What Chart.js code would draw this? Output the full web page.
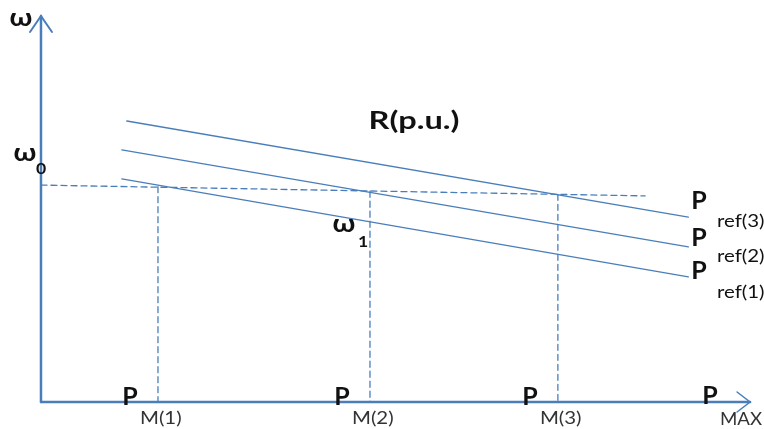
<!DOCTYPE html>
<html>
<head>
<meta charset="utf-8">
<script src="https://cdn.jsdelivr.net/npm/chart.js@4/dist/chart.umd.min.js"></script>
<style>
  html, body { margin: 0; padding: 0; background: #fff; }
  #wrap { width: 764px; height: 429px; }
</style>
</head>
<body>
<div id="wrap"><canvas id="myChart"></canvas></div>
<script>
// Droop lines P_ref(1..3) (x = P, y = omega, axis units 0..10)
let refLabels = ['ref(1)', 'ref(2)', 'ref(3)'];
let refStartX = [1.14, 1.14, 1.21];
let refStartY = [5.78, 6.53, 7.28];
let refEndX = [9.13, 9.13, 9.13];
let refEndY = [3.24, 4.02, 4.79];

// omega0 dashed level
let omega0X = [0, 8.52];
let omega0Y = [5.62, 5.34];

// operating points P_M(i) and where their dashed drop starts
let pmLabels = ['M(1)', 'M(2)', 'M(3)'];
let pmX = [1.65, 4.64, 7.29];
let pmTopY = [5.58, 5.46, 5.38];

// axes (with arrow heads)
let axisMax = 10;
let arrowW = 0.155;   // half width of y arrow (x units)
let arrowL = 0.415;   // length of y arrow (y units)
let arrowXL = 0.183;  // length of x arrow (x units)
let arrowXW = 0.259;  // half width of x arrow (y units)

const blue = '#4a7ebb';

function seg(x1, y1, x2, y2){
    return [{x: x1, y: y1}, {x: x2, y: y2}];
}

let datasets = [];

// axis lines
datasets.push({ data: seg(0, 0, 0, axisMax), borderColor: blue, borderWidth: 2.5 });
datasets.push({ data: seg(0, 0, axisMax, 0), borderColor: blue, borderWidth: 2.5 });
datasets.push({ data: [{x: -arrowW, y: axisMax - arrowL}, {x: 0, y: axisMax}, {x: arrowW, y: axisMax - arrowL}], borderColor: blue, borderWidth: 2 });
datasets.push({ data: [{x: axisMax - arrowXL, y: arrowXW}, {x: axisMax, y: 0}, {x: axisMax - arrowXL, y: -arrowXW}], borderColor: blue, borderWidth: 1.5 });

// droop lines
for (let i in refLabels){
    datasets.push({ data: seg(refStartX[i], refStartY[i], refEndX[i], refEndY[i]), borderColor: blue, borderWidth: 1.3 });
}

// dashed omega0
datasets.push({ data: seg(omega0X[0], omega0Y[0], omega0X[1], omega0Y[1]), borderColor: blue, borderWidth: 1.3, borderDash: [6, 4] });

// dashed verticals
for (let i in pmX){
    datasets.push({ data: seg(pmX[i], pmTopY[i], pmX[i], 0), borderColor: blue, borderWidth: 1.3, borderDash: [6, 4] });
}

datasets.forEach(d => { d.showLine = true; d.pointRadius = 0; d.fill = false; d.tension = 0; d.borderCapStyle = 'round'; });

// text drawn a bit wider than the font, like the source picture
function txt(c, s, x, y, font, align, sx, color){
    c.save();
    c.font = font;
    c.fillStyle = color || '#111';
    c.textAlign = align;
    c.textBaseline = 'middle';
    c.translate(x, y);
    c.scale(sx, 1);
    c.fillText(s, 0, 0);
    c.restore();
}

// draw the text labels
const labelPlugin = {
    id: 'labels',
    afterDatasetsDraw(chart){
        const c = chart.ctx;
        const xs = chart.scales.x;

        txt(c, '\u03c9', 21, 18, 'bold 24px Lato', 'center', 1.2);
        txt(c, '\u03c9', 25, 153, 'bold 24px Lato', 'center', 1.2);
        txt(c, '0', 41, 169, 'bold 16px Lato', 'center', 1.1);

        txt(c, '\u03c9', 344, 224, 'bold 24px Lato', 'center', 1.2);
        txt(c, '1', 363, 242, 'bold 16px Lato', 'center', 1.1);

        txt(c, 'R(p.u.)', 414, 121, 'bold 25px Lato', 'center', 1.3);

        // right side P_ref labels
        let pY = [271, 238, 201];
        let rY = [293, 257, 222];
        for (let i in refLabels){
            txt(c, 'P', 699, pY[i], 'bold 25px Lato', 'center', 1.0);
            txt(c, refLabels[i], 717, rY[i], '17px Lato', 'left', 1.2);
        }

        // bottom P_M labels
        for (let i in pmX){
            let px = xs.getPixelForValue(pmX[i]);
            txt(c, 'P', px - 28, 397, 'bold 25px Lato', 'center', 1.0);
            txt(c, pmLabels[i], px - 18, 419, '17px Lato', 'left', 1.2, '#333');
        }
        txt(c, 'P', 710, 396, 'bold 25px Lato', 'center', 1.0);
        txt(c, 'MAX', 720, 420, '17px Lato', 'left', 1.1, '#333');
    }
};

new Chart(document.getElementById('myChart'), {
    type: 'scatter',
    data: { datasets: datasets },
    options: {
        responsive: true,
        maintainAspectRatio: false,
        animation: false,
        layout: { padding: 0 },
        plugins: { legend: { display: false }, tooltip: { enabled: false } },
        scales: {
            x: { type: 'linear', display: false, min: -0.578, max: 10.197 },
            y: { type: 'linear', display: false, min: -0.699, max: 10.415 }
        }
    },
    plugins: [labelPlugin]
});
</script>
</body>
</html>
